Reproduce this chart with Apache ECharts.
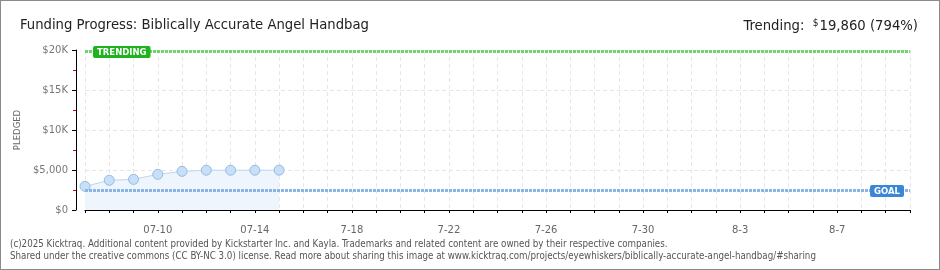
<!DOCTYPE html>
<html><head><meta charset="utf-8">
<script src="https://cdn.jsdelivr.net/npm/echarts@6/dist/echarts.min.js"></script>
<style>
html,body{margin:0;padding:0;background:#fff;}
#c{width:940px;height:270px;position:absolute;left:0;top:0;}
#b{position:absolute;left:0;top:0;width:940px;height:270px;box-sizing:border-box;border:1px solid #8a8a8a;pointer-events:none;}
</style></head>
<body><div id="c"></div><div id="b"></div>
<script>
const categories = ['07-07','07-08','07-09','07-10','07-11','07-12','07-13','07-14','07-15',
  '7-16','7-17','7-18','7-19','7-20','7-21','7-22','7-23','7-24','7-25','7-26','7-27','7-28','7-29',
  '7-30','7-31','8-1','8-2','8-3','8-4','8-5','8-6','8-7','8-8','8-9','8-10'];
const pledged = [2960, 3710, 3830, 4460, 4830, 4970, 4970, 4970, 4980];
const goal = 2500;
const trending = 19860;
const yTicks = {min: 0, max: 20000, interval: 5000};
const titleText = 'Funding Progress: Biblically Accurate Angel Handbag';
const footer1 = '(c)2025 Kicktraq. Additional content provided by Kickstarter Inc. and Kayla. Trademarks and related content are owned by their respective companies.';
const footer2 = 'Shared under the creative commons (CC BY-NC 3.0) license. Read more about sharing this image at www.kicktraq.com/projects/eyewhiskers/biblically-accurate-angel-handbag/#sharing';

const NF = '"Liberation Sans Narrow", "DejaVu Sans Condensed", sans-serif';
const chart = echarts.init(document.getElementById('c'), null, {renderer:'canvas'});
function yLabel(v){
  if (v === 0) return '$0';
  if (v < 10000) return '$' + v.toLocaleString('en-US');
  return '$' + (v/1000) + 'K';
}
chart.setOption({
  animation: false,
  title: [
    {text: titleText, left: 15, top: 13, textStyle:{fontFamily: NF, fontSize: 14.7, fontWeight:'normal', color:'#222'}},
    {text: '{a|Trending:  }{s|$}{a|' + trending.toLocaleString('en-US') + ' (' + Math.round(trending/goal*100) + '%)}',
     right: 17, top: 13,
     textStyle:{fontWeight:'normal', rich:{a:{fontFamily: NF, fontSize:14.7, fontWeight:'normal', color:'#222'}, s:{fontFamily: NF, fontSize:10, fontWeight:'normal', color:'#222', padding:[0,1,7,0]}}}},
    {text: footer1, left: 5, top: 234, textStyle:{fontFamily: NF, fontSize: 9.7, fontWeight:'normal', color:'#555'}},
    {text: footer2, left: 5, top: 246, textStyle:{fontFamily: NF, fontSize: 9.7, fontWeight:'normal', color:'#555'}}
  ],
  grid: {left: 85, right: 30, top: 50, bottom: 60},
  xAxis: {
    type: 'category', data: categories, boundaryGap: false, offset: 10,
    axisLine: {lineStyle:{color:'#000', width:1}},
    axisTick: {show:true, interval:0, length:3, lineStyle:{color:'#000'}},
    axisLabel: {interval: (i) => (i - 3) % 4 === 0, color:'#666', fontSize: 10, fontFamily: 'DejaVu Sans', margin: 5},
    splitLine: {show:true, interval:0, lineStyle:{color:'#e6e6e6', type:[4,3]}}
  },
  yAxis: {
    type: 'value', min: yTicks.min, max: yTicks.max, interval: yTicks.interval, offset: 9,
    name: 'PLEDGED', nameLocation: 'middle', nameGap: 54, nameRotate: 90, nameMoveOverlap: false,
    nameTextStyle: {color:'#666', fontSize: 8.5, fontFamily:'DejaVu Sans', letterSpacing: 1.5},
    axisLine: {show:true, lineStyle:{color:'#000', width:1}},
    axisTick: {show:true, length:4, lineStyle:{color:'#000'}},
    minorTick: {show:true, splitNumber:2, length:3, lineStyle:{color:'#e00000'}},
    axisLabel: {formatter: yLabel, color:'#777', fontSize: 10, fontFamily: 'DejaVu Sans', margin: 8},
    splitLine: {show:true, lineStyle:{color:'#e6e6e6', type:[4,3]}}
  },
  series: [
    {
      type: 'line', data: pledged, symbol: 'circle', symbolSize: 10,
      lineStyle: {color:'#bcd6f2', width:1},
      itemStyle: {color:'#c8dff8', borderColor:'#96b9e2', borderWidth:1},
      areaStyle: {color:'#eef5fd', opacity: 1},
      z: 3,
      markLine: {
        silent: true, symbol: ['none','none'],
        data: [
          {yAxis: trending, lineStyle:{color:'#6fd66f', width:3, type:[3,1]},
           label:{show:true, position:'insideStartTop', formatter:'TRENDING', distance:[8,-7],
             backgroundColor:'#1fb31f', color:'#fff', fontSize:8.5, fontWeight:'bold', fontFamily:'DejaVu Sans',
             padding:[2,4,1,4], borderRadius:2}},
          {yAxis: goal, lineStyle:{color:'#8ab4e6', width:3, type:[3,1]},
           label:{show:true, position:'insideEndTop', formatter:'GOAL', distance:[6,-7],
             backgroundColor:'#3a87d8', color:'#fff', fontSize:8.5, fontWeight:'bold', fontFamily:'DejaVu Sans',
             padding:[2,4,1,4], borderRadius:2}}
        ]
      }
    }
  ]
});
</script></body></html>
